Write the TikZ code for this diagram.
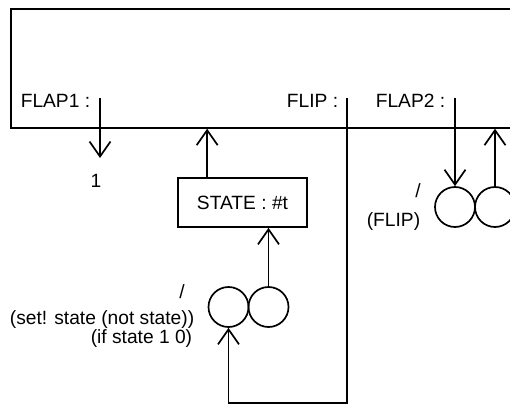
\documentclass[tikz,border=0pt]{standalone}
\usepackage{fontspec}
\setmainfont{Liberation Sans}
\usetikzlibrary{arrows.meta,calc}
\begin{document}
\begin{tikzpicture}[x=1pt,y=-1pt,line width=1.7pt,
  every node/.style={font=\fontsize{19.2}{22}\selectfont,inner sep=0pt},
  arr/.style={-{Straight Barb[length=15pt,width=21pt,line width=1.7pt]}},
  circ/.style={draw,circle,minimum size=40pt,inner sep=0pt,line width=1.7pt},
  lblr/.style={anchor=base east},
  boxst/.style={draw,minimum width=129pt,minimum height=49pt,line width=1.7pt}]
\useasboundingbox (0,0) rectangle (510,406);
\clip (0,0) rectangle (510,406);
% outer system box (open to the right)
\node[draw,line width=1.7pt,minimum width=540pt,minimum height=119pt,anchor=north west] (sys) at (10,8) {};
% labels in the box
\node[lblr] (flap1) at (91,108) {FLAP1 :};
\node[lblr] (flip) at (339,108) {FLIP :};
\node[lblr] (flap2) at (446,108) {FLAP2 :};
% FLAP1 output
\coordinate (f1a) at (100,98);
\coordinate (f1b) at (100,158);
\draw[arr] (f1a) -- (f1b);
\node[anchor=base] (one) at (96,187) {1};
% STATE box
\node[boxst] (state) at (242.5,202.5) {STATE : \#t};
\coordinate (sout) at ($(state.north west)+(30,0)$);
\draw[arr] (sout) -- (sout|-sys.south);
% bottom circles
\node[circ] (c1) at (228.5,307) {};
\node[circ] (c2) at (268.5,307) {};
\draw[arr] (c2.north) -- (c2.north|-state.south);
\node (sl1) at (182,292) {/};
\node[lblr] (t1) at (195,324) {(set! state (not state))};
\node[lblr] (t2) at (193,343) {(if state 1 0)};
% FLIP loop
\coordinate (fl1) at (347,98);
\coordinate (fl2) at (347,403);
\draw[arr] (fl1) -- (fl2) -| (c1.south);
% FLAP2 circles
\node[circ] (c3) at (455,207) {};
\node[circ] (c4) at (495,207) {};
\coordinate (f2a) at (455,98);
\draw[arr] (f2a) -- (c3.north);
\draw[arr] (c4.north) -- (c4.north|-sys.south);
\node (sl2) at (418,191) {/};
\node[lblr] (t3) at (421,226) {(FLIP)};
\end{tikzpicture}
\end{document}
